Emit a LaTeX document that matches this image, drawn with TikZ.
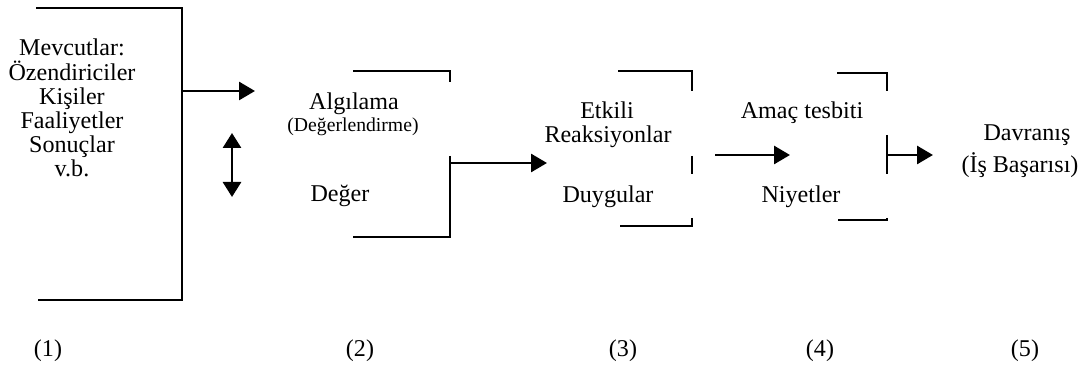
\documentclass[tikz,border=0pt]{standalone}
\usepackage{fontspec}
\setmainfont{Liberation Serif}
\usetikzlibrary{arrows.meta}
\tikzset{x=0.02cm, y=-0.02cm, % one unit = one pixel of the layout
        every node/.style={ % Sets the properties for each text
            inner sep=0pt,
            anchor=base,
            font=\fontsize{13.7}{13.7}\selectfont},
        smalltext/.style={font=\fontsize{11.2}{11.2}\selectfont},
        bracket/.style={ % open box sides
            draw,
            line width=0.9pt},
        flow/.style={ % bold arrows between the stages
            draw,
            line width=1.6pt,
            -{Triangle[length=0.32cm,width=0.36cm]}},
        twoway/.style={
            draw,
            line width=1.6pt,
            {Triangle[length=0.3cm,width=0.36cm]}-{Triangle[length=0.3cm,width=0.36cm]}}
        }
\begin{document}
\begin{tikzpicture}
    \useasboundingbox (0,0) rectangle (1088,367);

    % stage texts
    \node[align=center, anchor=center] (inputs) at (72,108) {Mevcutlar:\\Özendiriciler\\Kişiler\\Faaliyetler\\Sonuçlar\\v.b.};
    \node (perc) at (354,110) {Algılama};
    \node[smalltext] (eval) at (353,132) {(Değerlendirme)};
    \node (value) at (340,202) {Değer};
    \node (effect) at (607,119) {Etkili};
    \node (react) at (608,143) {Reaksiyonlar};
    \node (feel) at (608,203) {Duygular};
    \node (goal) at (802,119) {Amaç tesbiti};
    \node (intent) at (801,203) {Niyetler};
    \node (behav) at (1027,141) {Davranış};
    \node (perf) at (1020,173) {(İş Başarısı)};

    % stage numbers
    \node (n1) at (48,357) {(1)};
    \node (n2) at (360,357) {(2)};
    \node (n3) at (623,357) {(3)};
    \node (n4) at (820,357) {(4)};
    \node (n5) at (1025,357) {(5)};

    % open boxes
    \draw[bracket] (36,8) -- (182,8) -- (182,300) -- (38,300);
    \draw[bracket] (353,71) -- (450,71) -- (450,82);
    \draw[bracket] (450,156) -- (450,237) -- (353,237);
    \draw[bracket] (618,71) -- (692,71) -- (692,91);
    \draw[bracket] (692,156) -- (692,174);
    \draw[bracket] (692,218) -- (692,226) -- (620,226);
    \draw[bracket] (837,73) -- (887,73) -- (887,91);
    \draw[bracket] (887,135) -- (887,174);
    \draw[bracket] (887,218) -- (887,220) -- (838,220);

    % arrow ends
    \coordinate (out1) at (182,91);
    \coordinate (in2) at (255,91);
    \coordinate (up2) at (232,133);
    \coordinate (down2) at (232,197);
    \coordinate (out2) at (450,163);
    \coordinate (in3) at (547,163);
    \coordinate (out3) at (715,155);
    \coordinate (in4) at (790,155);
    \coordinate (out4) at (887,155);
    \coordinate (in5) at (933,155);

    \draw[flow] (out1) -- (in2);
    \draw[twoway] (up2) -- (down2);
    \draw[flow] (out2) -- (in3);
    \draw[flow] (out3) -- (in4);
    \draw[flow] (out4) -- (in5);
\end{tikzpicture}
\end{document}
